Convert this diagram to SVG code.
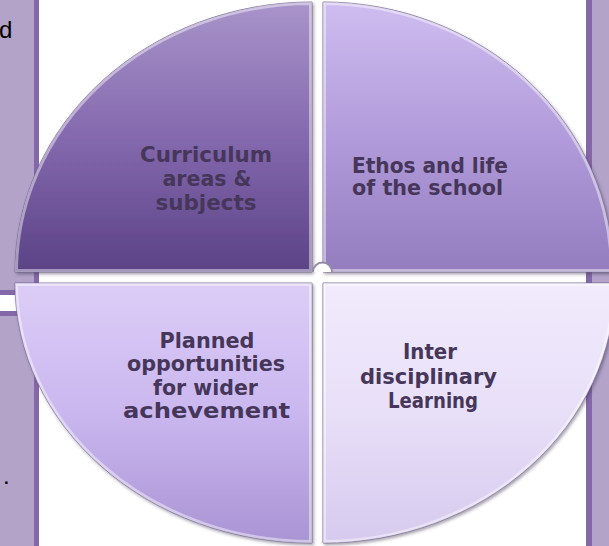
<svg xmlns="http://www.w3.org/2000/svg" width="609" height="546" viewBox="0 0 609 546">
<style>
.lbl{font-family:"DejaVu Sans","Liberation Sans",sans-serif;font-weight:bold;font-size:21px;fill:#45365a;text-anchor:middle}
.side{font-family:"Liberation Sans",Arial,sans-serif;font-size:24px;fill:#000}
.hl{fill:none;stroke:#ffffff;stroke-opacity:0.45;stroke-width:6}
.edge{stroke:#6e5e88;stroke-width:0.8}
</style>
<defs>
<linearGradient id="gTL" x1="0" y1="0" x2="0" y2="1"><stop offset="0" stop-color="#a994ca"/><stop offset="0.5" stop-color="#8469ae"/><stop offset="1" stop-color="#5b4286"/></linearGradient>
<linearGradient id="gTR" x1="0" y1="0" x2="0" y2="1"><stop offset="0" stop-color="#cfbdf0"/><stop offset="0.5" stop-color="#b19bda"/><stop offset="1" stop-color="#937dbf"/></linearGradient>
<linearGradient id="gBL" x1="0" y1="0" x2="0" y2="1"><stop offset="0" stop-color="#dccdf7"/><stop offset="0.5" stop-color="#cab7ef"/><stop offset="1" stop-color="#aa94d4"/></linearGradient>
<linearGradient id="gBR" x1="0" y1="0" x2="0" y2="1"><stop offset="0" stop-color="#f1ebfc"/><stop offset="0.5" stop-color="#e8dff8"/><stop offset="1" stop-color="#d6caee"/></linearGradient>
<filter id="sh" x="-10%" y="-10%" width="120%" height="120%"><feDropShadow dx="1.5" dy="2" stdDeviation="1.5" flood-color="#3a3050" flood-opacity="0.45"/></filter>
<path id="pTL" d="M312,272 L15,272 A297,270 0 0 1 312,2 Z"/>
<path id="pTR" d="M323,272 L323,2 A290,270 0 0 1 613,272 Z"/>
<path id="pBL" d="M312,283 L312,543 A297,260 0 0 1 15,283 Z"/>
<path id="pBR" d="M323,283 L615,283 A292,260 0 0 1 323,543 Z"/>
<clipPath id="cTL"><use href="#pTL"/></clipPath>
<clipPath id="cTR"><use href="#pTR"/></clipPath>
<clipPath id="cBL"><use href="#pBL"/></clipPath>
<clipPath id="cBR"><use href="#pBR"/></clipPath>
</defs>
<rect width="609" height="546" fill="#ffffff"/>
<g id="background">
<rect x="0" y="0" width="34" height="546" fill="#b3a3c9"/>
<rect x="34" y="0" width="5" height="546" fill="#8467a9"/>
<rect x="0" y="290" width="40" height="26" fill="#8467a9"/>
<rect x="0" y="295" width="40" height="16" fill="#ffffff"/>
<rect x="586" y="0" width="6" height="546" fill="#8467a9"/>
<rect x="592" y="0" width="17" height="546" fill="#b3a3c9"/>
<text class="side" x="-1" y="38">d</text>
<text class="side" x="3" y="484">.</text>
</g>
<g id="q-curriculum">
<use href="#pTL" fill="url(#gTL)" class="edge" filter="url(#sh)"/>
<use href="#pTL" class="hl" clip-path="url(#cTL)"/>
<text class="lbl"><tspan x="206" y="162" textLength="132" lengthAdjust="spacingAndGlyphs">Curriculum</tspan><tspan x="207" y="186" textLength="89" lengthAdjust="spacingAndGlyphs">areas &amp;</tspan><tspan x="206" y="210" textLength="101" lengthAdjust="spacingAndGlyphs">subjects</tspan></text>
</g>
<g id="q-ethos">
<use href="#pTR" fill="url(#gTR)" class="edge" filter="url(#sh)"/>
<use href="#pTR" class="hl" clip-path="url(#cTR)"/>
<text class="lbl"><tspan x="430" y="173" textLength="156" lengthAdjust="spacingAndGlyphs">Ethos and life</tspan><tspan x="427.5" y="195" textLength="151" lengthAdjust="spacingAndGlyphs">of the school</tspan></text>
</g>
<g id="q-planned">
<use href="#pBL" fill="url(#gBL)" class="edge" filter="url(#sh)"/>
<use href="#pBL" class="hl" clip-path="url(#cBL)"/>
<text class="lbl"><tspan x="207" y="348" textLength="95" lengthAdjust="spacingAndGlyphs">Planned</tspan><tspan x="206" y="371" textLength="158" lengthAdjust="spacingAndGlyphs">opportunities</tspan><tspan x="205.5" y="395" textLength="105" lengthAdjust="spacingAndGlyphs">for wider</tspan><tspan x="206.5" y="418" textLength="167" lengthAdjust="spacingAndGlyphs">achevement</tspan></text>
</g>
<g id="q-inter">
<use href="#pBR" fill="url(#gBR)" class="edge" filter="url(#sh)"/>
<use href="#pBR" class="hl" clip-path="url(#cBR)"/>
<text class="lbl"><tspan x="430" y="359" textLength="54" lengthAdjust="spacingAndGlyphs">Inter</tspan><tspan x="428.5" y="384" textLength="137" lengthAdjust="spacingAndGlyphs">disciplinary</tspan><tspan x="433" y="408" textLength="90" lengthAdjust="spacingAndGlyphs">Learning</tspan></text>
</g>
<g id="center-mark">
<path d="M313,272 A9.5,9.5 0 0 1 332,272" fill="#ffffff" stroke="#958aa6" stroke-width="2"/>
</g>
</svg>
